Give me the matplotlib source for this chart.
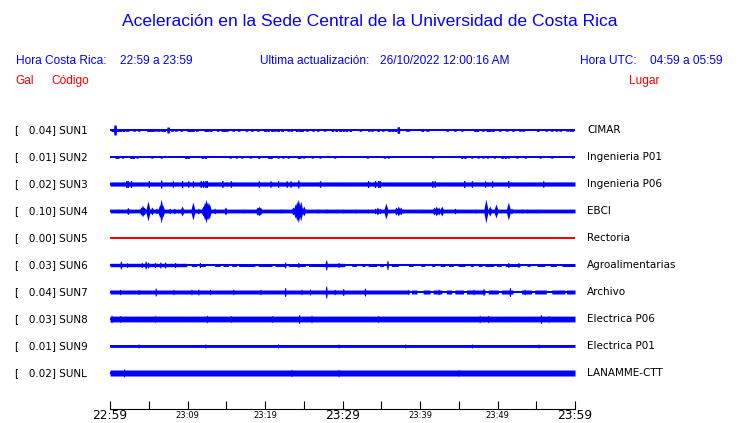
import matplotlib
matplotlib.use("Agg")
import matplotlib.pyplot as plt
import numpy as np

# ---- data ----
stations = ["SUN1", "SUN2", "SUN3", "SUN4", "SUN5", "SUN6", "SUN7", "SUN8", "SUN9", "SUNL"]
peaks = [0.04, 0.01, 0.02, 0.10, 0.00, 0.03, 0.04, 0.03, 0.01, 0.02]
places = ["CIMAR", "Ingenieria P01", "Ingenieria P06", "EBCI", "Rectoria",
          "Agroalimentarias", "Archivo", "Electrica P06", "Electrica P01", "LANAMME-CTT"]

tick_minutes = list(range(0, 61, 5))
tick_labels = ["22:59", "", "23:09", "", "23:19", "", "23:29", "", "23:39", "", "23:49", "", "23:59"]
major_labels = ["22:59", "23:29", "23:59"]

# relative amplitude of each trace: steady noise bands (start min, end min, amp)
# and bursts (minute after 22:59, amp)
sun1_bands = []
sun1_spikes = [(0.3, 1.5), (0.65, 5), (1.0, 1.5), (1.3, 1.5), (1.7, 1.5), (2.1, 1.3), (2.3, 1.3),
               (3.1, 1.3), (3.7, 1.3), (4.9, 1.5), (5.2, 1.5), (5.4, 1.5), (5.7, 1.3), (6.1, 1.3),
               (6.3, 1.3), (6.7, 1.3), (7.0, 1.5), (7.5, 3), (8.0, 1.3), (8.5, 1.3), (9.2, 1.3),
               (10.1, 1.5), (10.4, 1.5), (10.7, 1.5), (11.2, 1.3), (12.3, 1.5), (12.6, 1.5),
               (13.0, 1.5), (13.9, 1.3), (14.5, 1.5), (14.8, 1.5), (15.1, 1.3), (15.9, 1.3),
               (16.6, 1.3), (17.6, 1.3), (18.3, 1.3), (19.1, 1.3), (20.0, 1.5), (20.4, 1.5),
               (20.9, 1.5), (21.3, 1.3), (21.7, 1.5), (22.2, 1.5), (23.0, 1.3), (23.4, 1.3),
               (24.1, 1.5), (24.5, 1.5), (24.8, 1.5), (25.4, 1.3), (26.2, 1.3), (26.8, 1.3),
               (27.7, 1.3), (28.7, 1.5), (29.2, 1.5), (29.7, 1.5), (30.1, 1.3), (30.5, 1.5),
               (31.0, 1.5), (32.3, 1.3), (33.4, 1.3), (33.8, 1.3), (34.6, 1.5), (35.2, 1.3),
               (36.0, 1.5), (36.4, 1.5), (36.8, 1.5), (37.2, 3.3), (38.3, 1.3), (38.5, 1.3),
               (40.3, 1.5), (40.9, 1.3), (41.0, 1.3), (43.5, 1.3), (44.5, 1.3), (45.4, 1.3),
               (47.1, 1.5), (47.4, 1.5), (48.1, 1.3), (48.7, 1.5), (49.0, 1.5), (49.4, 1.5),
               (50.3, 1.3), (51.2, 1.3), (52.0, 1.3), (52.9, 1.3), (53.3, 1.3), (55.2, 1.5),
               (56.3, 1.3), (57.0, 1.3), (57.6, 1.3), (58.1, 1.3), (59.0, 1.3), (59.4, 1.3),
               (59.7, 1.3)]

sun2_bands = []
sun2_spikes = [(0.8, 1.5), (1.0, 1.5), (1.6, 1.2), (2.7, 1.5), (3.0, 1.5), (3.5, 1.2), (5.4, 1.2),
               (6.6, 1.2), (9.8, 1.5), (10.1, 1.5), (11.9, 1.5), (12.3, 1.5), (15.5, 1.2),
               (16.3, 1.2), (17.0, 1.2), (18.1, 1.2), (19.2, 1.5), (20.5, 1.5), (20.8, 1.5),
               (21.7, 1.2), (22.3, 1.2), (23.0, 1.2), (24.3, 1.5), (24.5, 1.5), (25.0, 1.2),
               (26.1, 1.2), (27.1, 1.2), (29.0, 1.2), (33.2, 1.2), (35.4, 1.2), (35.9, 1.2),
               (41.6, 1.2), (45.4, 1.5), (45.8, 1.5), (46.7, 1.2), (47.5, 1.2), (48.1, 1.2),
               (48.7, 1.2), (49.6, 1.2), (50.6, 1.5), (51.0, 1.5), (51.4, 1.2), (52.5, 1.2),
               (53.6, 1.2), (55.5, 1.2), (57.0, 1.2), (59.7, 1.2)]

sun3_bands = [(0, 60, 2.1)]
sun3_spikes = [(2.1, 3.5), (2.3, 3.5), (2.7, 3.5), (5.0, 3.5), (6.6, 4), (8.1, 3.3), (9.3, 3.5),
               (10.1, 3.3), (10.7, 3.3), (11.7, 3.5), (12.0, 3.5), (12.3, 3.5), (12.5, 3.5),
               (14.5, 3.5), (15.6, 3.3), (19.2, 3.3), (20.7, 3.3), (21.7, 3.3), (22.8, 3.3),
               (23.3, 3.3), (24.3, 4), (27.1, 3.3), (33.3, 3.5), (34.2, 3.5), (34.6, 3.5),
               (34.8, 3.5), (41.6, 3.5), (41.9, 3.3), (45.7, 3.5), (46.7, 3.3), (48.4, 3.3),
               (49.3, 3.3), (51.4, 3.5), (55.9, 3.3)]

sun4_bands = [(0, 60, 1.9)]
sun4_spikes = [(1.1, 2.3), (2.3, 3.7), (4.0, 4), (4.2, 6), (4.4, 4), (4.9, 10), (5.4, 4), (6.0, 3),
               (6.4, 6), (6.6, 12), (6.8, 6), (7.7, 3), (8.3, 3), (8.8, 2.3), (9.3, 5), (10.7, 9),
               (11.4, 3), (12.0, 5), (12.2, 9), (12.4, 12), (12.6, 9), (12.8, 8), (13.5, 3),
               (14.9, 4), (17.2, 2.3), (19.0, 4), (19.2, 5), (19.4, 4), (22.0, 2.3), (23.6, 4),
               (23.9, 7), (24.1, 10), (24.3, 12), (24.6, 10), (25.0, 5), (26.8, 2.3), (28.0, 2.3),
               (29.3, 2.3), (30.1, 2.3), (31.6, 2.3), (33.3, 2.3), (34.2, 3), (34.5, 4), (34.8, 3),
               (35.6, 8), (36.9, 4), (37.2, 5), (37.5, 4), (37.8, 2.3), (40.2, 2.3), (41.8, 4),
               (42.1, 5), (42.4, 4), (42.8, 5), (44.5, 3), (47.1, 2.3), (48.5, 12), (49.0, 5),
               (49.8, 7), (51.4, 9), (51.8, 3), (53.1, 2.3), (53.8, 2.3), (55.1, 2.3)]

sun5_bands = []
sun5_spikes = []

sun6_bands = [(0, 9.9, 1.7), (10.5, 11.2, 1.5), (11.6, 12.3, 1.5), (13.5, 14.2, 1.5),
              (14.6, 15.3, 1.5), (15.7, 16.3, 1.5), (16.6, 18.7, 1.5), (19.1, 20.9, 1.5),
              (21.3, 22.6, 1.5), (23.0, 25.2, 1.5), (25.6, 27.7, 1.5), (27.7, 30.3, 1.7),
              (31.2, 31.8, 1.5), (32.5, 32.9, 1.5), (33.3, 34.4, 1.5), (34.8, 35.3, 1.5),
              (36.3, 37.2, 1.5), (38.5, 39.1, 1.5), (40.1, 40.6, 1.5), (41.5, 41.9, 1.5),
              (42.6, 43.2, 1.5), (43.7, 44.3, 1.5), (44.9, 45.8, 1.5), (46.5, 46.9, 1.5),
              (47.5, 48.0, 1.5), (48.4, 49.5, 1.5), (49.9, 50.5, 1.5), (51.0, 52.9, 1.5),
              (53.8, 54.2, 1.5), (55.1, 56.1, 1.5), (56.8, 57.6, 1.5), (58.3, 60, 1.5)]
sun6_spikes = [(1.4, 4), (2.2, 2.3), (4.1, 2.5), (4.6, 4), (4.9, 3), (5.8, 2.5), (6.5, 3), (7.1, 3),
               (8.4, 2.5), (11.6, 2.5), (22.6, 3), (24.3, 2.5), (27.9, 5), (29.5, 2.5),
               (35.8, 4.5), (51.4, 2.5), (52.7, 2.5)]

sun7_bands = [(0, 38.5, 2.0), (38.9, 39.6, 2.0), (40.4, 41.3, 2.0), (41.7, 42.8, 2.0),
              (43.4, 44.1, 2.0), (44.5, 45.6, 2.0), (46.0, 48.4, 2.0), (48.8, 50.1, 2.0),
              (50.5, 52.0, 2.0), (53.1, 54.4, 2.0), (54.8, 56.3, 2.0), (57.0, 58.7, 2.0),
              (58.9, 60, 2.0)]
sun7_spikes = [(1.3, 2.7), (3.7, 2.5), (5.9, 4), (8.2, 2.7), (10.5, 2.7), (11.4, 3), (12.9, 2.7),
               (15.9, 2.7), (19.4, 2.7), (22.6, 4.5), (24.7, 2.7), (25.8, 3), (27.9, 6),
               (29.0, 2.7), (30.1, 3.5), (32.9, 4), (38.5, 2.7), (42.4, 2.7), (46.9, 2.7),
               (48.2, 3.5), (51.6, 4.5), (53.5, 2.7)]

sun8_bands = [(0, 60, 2.9)]
sun8_spikes = [(0.2, 3.7), (1.3, 3.4), (5.8, 3.4), (12.5, 3.7), (15.6, 3.4), (20.9, 3.4),
               (24.4, 4.5), (26.0, 3.7), (34.6, 3.4), (47.7, 3.7), (48.8, 3.7), (55.6, 4.5),
               (56.6, 3.4)]

sun9_bands = [(0, 60, 1.4)]
sun9_spikes = [(3.7, 2), (12.3, 2), (21.7, 2), (29.5, 2), (38.1, 2), (46.7, 2), (55.3, 2)]

sunl_bands = [(0, 60, 3.0)]
sunl_spikes = [(1.8, 4), (23.4, 3.7), (29.5, 3.7), (45.0, 3.4)]

all_bands = [sun1_bands, sun2_bands, sun3_bands, sun4_bands, sun5_bands,
             sun6_bands, sun7_bands, sun8_bands, sun9_bands, sunl_bands]
all_spikes = [sun1_spikes, sun2_spikes, sun3_spikes, sun4_spikes, sun5_spikes,
              sun6_spikes, sun7_spikes, sun8_spikes, sun9_spikes, sunl_spikes]

# drawing style: burst shape (flat top width, slope width, minutes) and colour
shapes = [(0.3, 0.05), (0.25, 0.05), (0.15, 0.05), (0.0, 0.3), (0.1, 0.1),
          (0.1, 0.1), (0.1, 0.1), (0.1, 0.1), (0.1, 0.1), (0.1, 0.1)]
colors = ["#0000ff"] * 4 + ["#ff0000"] + ["#0000ff"] * 5

BLUE = "#0000ff"
RED = "#ff0000"
W, H = 740, 423


def fx(x):
    return x / W


def fy(y):
    return 1 - y / H


def envelope(t, bands, spikes, top, slope):
    env = np.zeros_like(t)
    for a, b, amp in bands:
        m = (t >= a) & (t <= b)
        env[m] = np.maximum(env[m], amp)
    for t0, amp in spikes:
        d = np.abs(t - t0) - top / 2
        env = np.maximum(env, amp * np.clip(1 - d / slope, 0, 1))
    return env


fig = plt.figure(figsize=(7.4, 4.23), dpi=100)

# header
fig.text(0.5, fy(22), "Aceleración en la Sede Central de la Universidad de Costa Rica",
         ha="center", va="center", color=BLUE, fontsize=12.6, family="Liberation Sans")
head = dict(va="center", color=BLUE, fontsize=8.6, family="Liberation Sans")
fig.text(fx(16), fy(61), "Hora Costa Rica:", **head)
fig.text(fx(120), fy(61), "22:59 a 23:59", **head)
fig.text(fx(260), fy(61), "Ultima actualización:", **head)
fig.text(fx(380), fy(61), "26/10/2022 12:00:16 AM", **head)
fig.text(fx(580), fy(61), "Hora UTC:", **head)
fig.text(fx(650), fy(61), "04:59 a 05:59", **head)
red = dict(va="center", color=RED, fontsize=8.6, family="Liberation Sans")
fig.text(fx(15), fy(81), "Gal", **red)
fig.text(fx(51), fy(81), "Código", **red)
fig.text(fx(629), fy(81), "Lugar", **red)

# traces: one row per station, 27 px apart, first row at y=130 px
ax = fig.add_axes([fx(110), fy(409), (575 - 110) / W, (409 - 115) / H])
ax.set_xlim(0, 60)
ax.set_ylim((409 - 130) / 27, (115 - 130) / 27)
scale = 1 / 27.0

t = np.linspace(0, 60, 4651)
for i, name in enumerate(stations):
    top, slope = shapes[i]
    env = envelope(t, all_bands[i], all_spikes[i], top, slope) * scale
    ax.fill_between(t, i - env, i + env, color=colors[i], lw=0, antialiased=False)
    ax.plot(t, np.full_like(t, i), color=colors[i], lw=0.8, antialiased=False)
    ax.text(-95 / 7.75, i, f"[   {peaks[i]:.2f}] {name}", ha="left", va="center",
            fontsize=7.5, family="DejaVu Sans", color="black")
    ax.text(477 / 7.75, i, places[i], ha="left", va="center",
            fontsize=7.5, family="DejaVu Sans", color="black")

for side in ["top", "left", "right"]:
    ax.spines[side].set_visible(False)
ax.spines["bottom"].set_linewidth(0.8)
ax.set_yticks([])
ax.set_xticks(tick_minutes)
ax.set_xticklabels(tick_labels, family="DejaVu Sans")
ax.tick_params(axis="x", direction="in", length=5.8, width=0.8, pad=4.5, colors="black")
for lab in ax.get_xticklabels():
    lab.set_verticalalignment("center")
    if lab.get_text() in major_labels:
        lab.set_fontsize(8.8)
    else:
        lab.set_fontsize(6)

fig.savefig("out.png", dpi=100)
